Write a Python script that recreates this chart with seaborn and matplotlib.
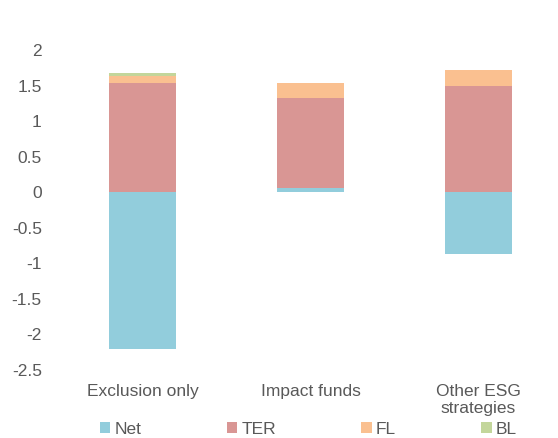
import numpy as np
import pandas as pd
import matplotlib
matplotlib.use("Agg")
import matplotlib.pyplot as plt
import seaborn as sns
from matplotlib.patches import Patch

categories = ["Exclusion only", "Impact funds", "Other ESG\nstrategies"]
net = [-2.20, 0.06, -0.865]
ter = [1.535, 1.27, 1.488]
fl = [0.095, 0.20, 0.235]
bl = [0.045, 0.01, 0.0]

series_names = ["Net", "TER", "FL", "BL"]
colors = ["#92CDDC", "#D99694", "#FAC090", "#C3D69B"]

sns.set_theme(style="white")
plt.rcParams["font.family"] = ["Liberation Sans", "DejaVu Sans"]
text_color = "#595959"

fig = plt.figure(figsize=(5.58, 4.38), dpi=100)
ax = fig.add_axes([58.5 / 558, (438 - 370) / 438, (562.5 - 58.5) / 558, (370 - 50) / 438 * 1.0])

df = pd.DataFrame({"cat": categories, "Net": net, "TER": ter, "FL": fl, "BL": bl})

pos_base = np.zeros(len(categories))
neg_base = np.zeros(len(categories))
for name, col in zip(series_names, colors):
    vals = df[name].to_numpy(dtype=float)
    bottoms = np.where(vals >= 0, pos_base, neg_base)
    sns.barplot(x="cat", y=name, data=df, color=col, width=0.4, bottom=bottoms,
                ax=ax, saturation=1, linewidth=0, order=categories)
    pos_base = pos_base + np.where(vals >= 0, vals, 0)
    neg_base = neg_base + np.where(vals < 0, vals, 0)

ax.set_ylim(-2.5, 2.0)
ax.set_xlim(-0.5, 2.5)
ax.set_yticks(np.arange(-2.5, 2.01, 0.5))
ax.set_yticklabels([f"{v:g}" for v in np.arange(-2.5, 2.01, 0.5)])
ax.set_xlabel("")
ax.set_ylabel("")
for s in ax.spines.values():
    s.set_visible(False)
ax.tick_params(axis="both", length=0, labelsize=12.5, colors=text_color)
ax.tick_params(axis="y", pad=12)
ax.tick_params(axis="x", pad=10)
for lbl in ax.get_xticklabels():
    lbl.set_linespacing(1.15)

handles = [Patch(facecolor=c, edgecolor="none") for c in colors]
leg = fig.legend(handles, series_names, loc="center", bbox_to_anchor=(0.553, 1 - 429 / 438),
                 ncol=4, frameon=False, fontsize=12.5, handlelength=0.6, handleheight=0.6,
                 handletextpad=0.25, columnspacing=4.9)
for t in leg.get_texts():
    t.set_color(text_color)

fig.savefig("out.png", dpi=100)
